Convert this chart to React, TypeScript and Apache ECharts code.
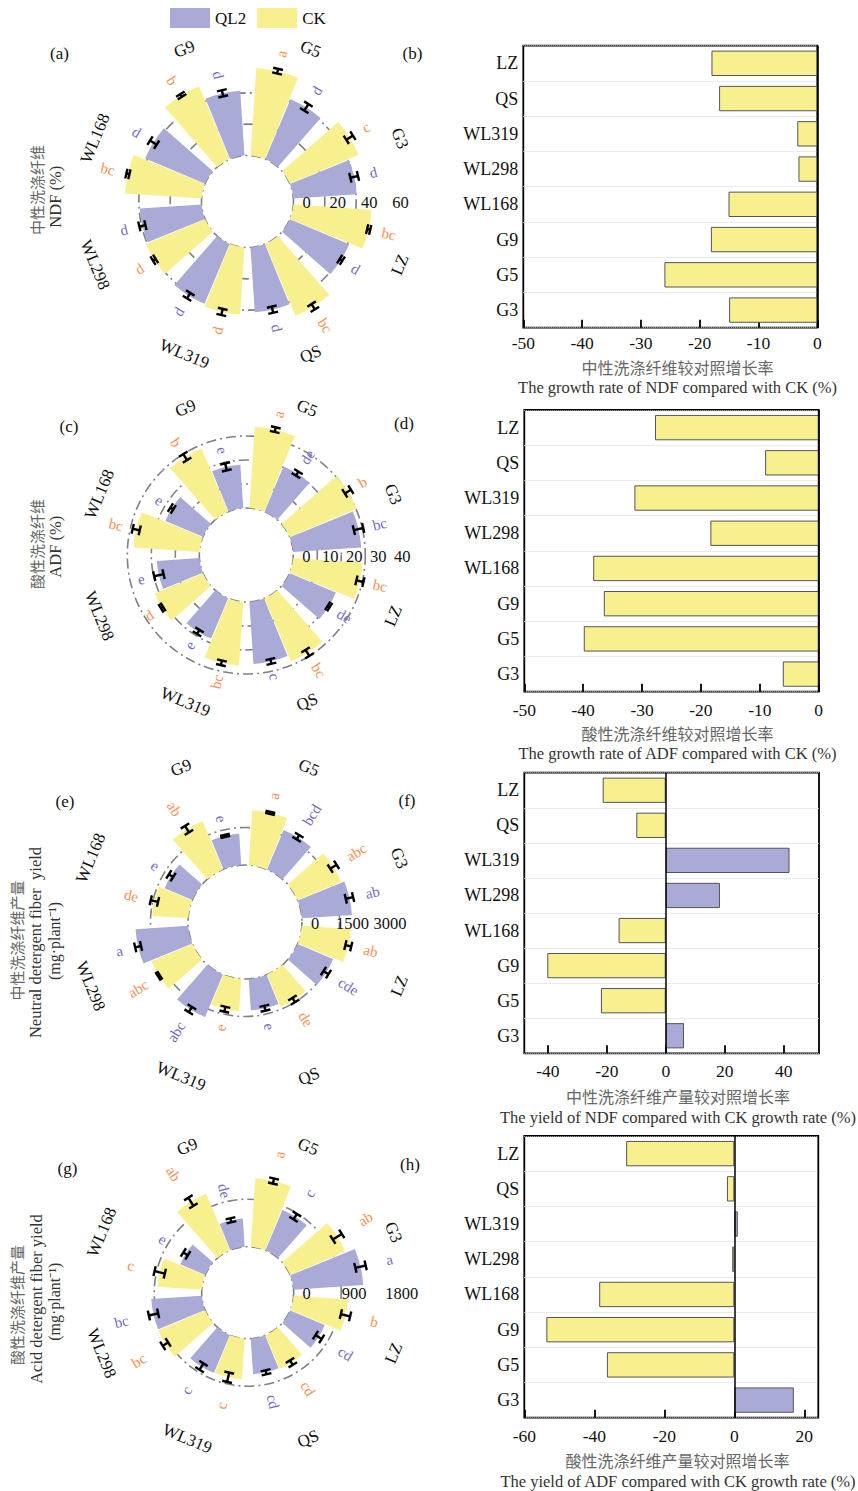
import React, { useEffect, useRef } from 'react';
import * as echarts from 'echarts';

// ---------------- data ----------------
const categories = ['G3', 'G5', 'G9', 'WL168', 'WL298', 'WL319', 'QS', 'LZ'];

// (a) NDF (%)
const ndfQL2 = [40.5, 41.5, 41.5, 41.5, 39.5, 41.5, 41.5, 41.0];
const ndfQL2Sd = [2.5, 2.5, 2.0, 2.5, 2.0, 2.0, 2.0, 1.0];
const ndfCK = [47.5, 56.0, 50.5, 49.0, 40.8, 43.0, 49.8, 50.0];
const ndfCKSd = [2.5, 1.5, 1.0, 1.0, 1.0, 2.0, 2.0, 1.0];
const ndfQL2Sig = ['d', 'd', 'd', 'd', 'd', 'd', 'd', 'd'];
const ndfCKSig = ['c', 'a', 'b', 'bc', 'd', 'd', 'bc', 'bc'];
const ndfTicks = [0, 20, 40, 60];

// (c) ADF (%)
const adfQL2 = [28.4, 20.4, 18.1, 17.0, 17.8, 18.2, 25.9, 20.9];
const adfQL2Sd = [2.0, 1.0, 1.5, 0.7, 2.0, 1.0, 1.0, 0.5];
const adfCK = [30.3, 34.0, 28.5, 27.5, 21.8, 26.5, 28.5, 29.0];
const adfCKSd = [1.5, 1.0, 1.5, 1.5, 0.5, 1.0, 1.5, 1.5];
const adfQL2Sig = ['bc', 'de', 'e', 'e', 'e', 'e', 'c', 'de'];
const adfCKSig = ['b', 'a', 'b', 'bc', 'd', 'bc', 'bc', 'bc'];
const adfTicks = [0, 10, 20, 30, 40];

// (e) NDF yield (mg/plant)
const ndfyQL2 = [2007, 1716, 1256, 1210, 2108, 1846, 1260, 1540];
const ndfyQL2Sd = [150, 100, 40, 100, 120, 120, 100, 120];
const ndfyCK = [1890, 2200, 2100, 1440, 1780, 1300, 1400, 1960];
const ndfyCKSd = [150, 40, 150, 150, 40, 100, 100, 120];
const ndfyQL2Sig = ['ab', 'bcd', 'e', 'e', 'a', 'abc', 'e', 'cde'];
const ndfyCKSig = ['abc', 'a', 'ab', 'de', 'abc', 'e', 'de', 'ab'];
const ndfyTicks = [0, 1500, 3000];

// (g) ADF yield (mg/plant)
const adfyQL2 = [1322, 827, 537, 516, 960, 780, 675, 712];
const adfyQL2Sd = [100, 60, 40, 50, 90, 70, 40, 70];
const adfyCK = [1130, 1300, 1160, 840, 966, 772, 690, 1030];
const adfyCKSd = [100, 50, 90, 100, 60, 90, 50, 90];
const adfyQL2Sig = ['a', 'c', 'de', 'e', 'bc', 'c', 'cd', 'cd'];
const adfyCKSig = ['ab', 'a', 'ab', 'c', 'bc', 'c', 'cd', 'b'];
const adfyTicks = [0, 900, 1800];

// growth rates (%) vs CK, categories order G3..LZ
const ndfRate = [-15.0, -26.0, -18.1, -15.1, -3.2, -3.4, -16.7, -18.0];
const adfRate = [-6.1, -39.9, -36.5, -38.3, -18.4, -31.3, -9.1, -27.8];
const ndfyRate = [6.2, -22.0, -40.2, -16.0, 18.4, 42.0, -10.0, -21.4];
const adfyRate = [17.0, -36.4, -53.7, -38.6, -0.6, 1.0, -2.1, -30.9];
const ticksB = [-50, -40, -30, -20, -10, 0];
const ticksD = [-50, -40, -30, -20, -10, 0];
const ticksF = [-40, -20, 0, 20, 40];
const ticksH = [-60, -40, -20, 0, 20];

// ---------------- styles ----------------
const PURPLE = '#A9ABD6';
const YELLOW = '#F8F08F';
const LET_PURPLE = '#7668C4';
const LET_ORANGE = '#F39253';
const SERIF = '"Liberation Serif", "Times New Roman", serif';
const CJK = '"Noto Sans CJK SC", "Liberation Serif", sans-serif';
const OFF = (9.5 * Math.PI) / 180;

function norm90(deg: number) {
  let d = deg;
  while (d > 90) d -= 180;
  while (d <= -90) d += 180;
  return d;
}

const polarPanels = [
  { center: [247.5, 201.5], radius: [46, 140], max: 60, interval: 20, ticks: ndfTicks, q: ndfQL2, qsd: ndfQL2Sd, ck: ndfCK, cksd: ndfCKSd, qsig: ndfQL2Sig, cksig: ndfCKSig, labelR: 165, gap: 12 },
  { center: [246.3, 555], radius: [47, 143], max: 40, interval: 10, ticks: adfTicks, q: adfQL2, qsd: adfQL2Sd, ck: adfCK, cksd: adfCKSd, qsig: adfQL2Sig, cksig: adfCKSig, labelR: 159, gap: 10 },
  { center: [245, 922], radius: [57, 132], max: 3000, interval: 1500, ticks: ndfyTicks, q: ndfyQL2, qsd: ndfyQL2Sd, ck: ndfyCK, cksd: ndfyCKSd, qsig: ndfyQL2Sig, cksig: ndfyCKSig, labelR: 167, gap: 13 },
  { center: [247.7, 1292.7], radius: [46, 141], max: 1800, interval: 900, ticks: adfyTicks, q: adfyQL2, qsd: adfyQL2Sd, ck: adfyCK, cksd: adfyCKSd, qsig: adfyQL2Sig, cksig: adfyCKSig, labelR: 158, gap: 21 },
];

const barPanels = [
  { grid: { left: 523.3, top: 45.7, width: 294, height: 282 }, min: -50, max: 0, ticks: ticksB, data: ndfRate, labelMargin: 6 },
  { grid: { left: 524.3, top: 410, width: 294.4, height: 281.7 }, min: -50, max: 0, ticks: ticksD, data: adfRate, labelMargin: 9 },
  { grid: { left: 524.3, top: 772.7, width: 294.7, height: 280.6 }, min: -48, max: 52, ticks: ticksF, data: ndfyRate, labelMargin: 9 },
  { grid: { left: 524.3, top: 1136, width: 294, height: 281.7 }, min: -60, max: 24, ticks: ticksH, data: adfyRate, labelMargin: 9 },
];

const errRender = (sig: string[], color: string, side: number, gap: number) => (params: any, api: any) => {
  const cs = params.coordSys;
  const cat = api.value(0);
  const mean = api.value(1);
  const sd = api.value(2);
  const p = api.coord([mean, cat]);
  const base = Math.atan2(cs.cy - p[1], p[0] - cs.cx);
  const a = base + side * OFF;
  const rr = (v: number) => {
    const q = api.coord([v, cat]);
    return Math.hypot(q[0] - cs.cx, q[1] - cs.cy);
  };
  const r1 = rr(mean - sd);
  const r2 = rr(mean + sd);
  const ux = Math.cos(a);
  const uy = -Math.sin(a);
  const tx = -uy;
  const ty = ux;
  const P = (r: number) => [cs.cx + r * ux, cs.cy + r * uy];
  const cap = 5;
  const [x1, y1] = P(r1);
  const [x2, y2] = P(r2);
  const ls = { stroke: '#000', lineWidth: 2.4 };
  const deg = (a * 180) / Math.PI;
  const rot = norm90(deg);
  const [lx, ly] = P(r2 + gap);
  return {
    type: 'group',
    children: [
      { type: 'line', shape: { x1, y1, x2, y2 }, style: ls },
      { type: 'line', shape: { x1: x1 - cap * tx, y1: y1 - cap * ty, x2: x1 + cap * tx, y2: y1 + cap * ty }, style: ls },
      { type: 'line', shape: { x1: x2 - cap * tx, y1: y2 - cap * ty, x2: x2 + cap * tx, y2: y2 + cap * ty }, style: ls },
      {
        type: 'text',
        x: lx,
        y: ly,
        rotation: (rot * Math.PI) / 180,
        style: {
          text: sig[params.dataIndex],
          fill: color,
          fontSize: 15,
          fontFamily: SERIF,
          align: Math.cos(a) < 0 ? 'right' : 'left',
          verticalAlign: 'middle',
        },
      },
    ],
  };
};

const catRender = (labelR: number) => (params: any, api: any) => {
  const cs = params.coordSys;
  const i = api.value(1);
  const p = api.coord([0, i]);
  const a = Math.atan2(cs.cy - p[1], p[0] - cs.cx);
  const rot = norm90((a * 180) / Math.PI - 90);
  return {
    type: 'text',
    x: cs.cx + labelR * Math.cos(a),
    y: cs.cy - labelR * Math.sin(a),
    rotation: (rot * Math.PI) / 180,
    style: { text: categories[i], fontSize: 17, fontFamily: SERIF, fill: '#111', align: 'center', verticalAlign: 'middle' },
  };
};

const tickRender = (ticks: number[]) => (params: any, api: any) => {
  const cs = params.coordSys;
  const v = api.value(0);
  const p = api.coord([v, 0]);
  const r = Math.hypot(p[0] - cs.cx, p[1] - cs.cy);
  return {
    type: 'text',
    x: cs.cx + r + 13,
    y: cs.cy + 1,
    style: { text: String(ticks[params.dataIndex]), fontSize: 16.5, fontFamily: SERIF, fill: '#111', align: 'center', verticalAlign: 'middle' },
  };
};

function buildOption() {
  const polar: any[] = [];
  const angleAxis: any[] = [];
  const radiusAxis: any[] = [];
  const grid: any[] = [];
  const xAxis: any[] = [];
  const yAxis: any[] = [];
  const series: any[] = [];

  polarPanels.forEach((pp, k) => {
    polar.push({ center: pp.center, radius: pp.radius });
    angleAxis.push({
      polarIndex: k,
      type: 'category',
      data: categories,
      startAngle: 0,
      clockwise: false,
      axisLine: { show: false },
      axisTick: { show: false },
      axisLabel: { show: false },
      splitLine: { show: false },
      splitArea: { show: false },
    });
    const lineColors = pp.ticks.map((_, i) => (i === pp.ticks.length - 1 ? 'rgba(0,0,0,0)' : '#808080'));
    radiusAxis.push({
      polarIndex: k,
      type: 'value',
      min: 0,
      max: pp.max,
      interval: pp.interval,
      axisLine: { show: false },
      axisTick: { show: false },
      axisLabel: { show: false },
      splitLine: { show: true, lineStyle: { color: lineColors, type: [10, 4, 2, 4], width: 1.6 } },
      splitArea: { show: false },
    });
    // ECharts lays the first polar bar series on the clockwise side of each band,
    // so CK is listed first to put QL2 on the counter-clockwise-start side as in the figure.
    series.push({
      type: 'bar',
      name: 'CK',
      coordinateSystem: 'polar',
      polarIndex: k,
      data: pp.ck,
      barCategoryGap: '16.7%',
      barGap: '3%',
      itemStyle: { color: YELLOW },
      z: 2,
    });
    series.push({
      type: 'bar',
      name: 'QL2',
      coordinateSystem: 'polar',
      polarIndex: k,
      data: pp.q,
      barCategoryGap: '16.7%',
      barGap: '3%',
      itemStyle: { color: PURPLE },
      z: 2,
    });
    series.push({
      type: 'custom',
      name: 'errQL2',
      coordinateSystem: 'polar',
      polarIndex: k,
      encode: { angle: 0, radius: 1 },
      data: pp.q.map((m, i) => [i, m, pp.qsd[i]]),
      renderItem: errRender(pp.qsig, LET_PURPLE, -1, pp.gap),
      z: 5,
      silent: true,
    });
    series.push({
      type: 'custom',
      name: 'errCK',
      coordinateSystem: 'polar',
      polarIndex: k,
      encode: { angle: 0, radius: 1 },
      data: pp.ck.map((m, i) => [i, m, pp.cksd[i]]),
      renderItem: errRender(pp.cksig, LET_ORANGE, 1, pp.gap),
      z: 5,
      silent: true,
    });
    series.push({
      type: 'custom',
      name: 'catLabels',
      coordinateSystem: 'polar',
      polarIndex: k,
      encode: { radius: 0, angle: 1 },
      data: categories.map((_, i) => [0, i]),
      renderItem: catRender(pp.labelR),
      z: 5,
      silent: true,
    });
    series.push({
      type: 'custom',
      name: 'tickLabels',
      coordinateSystem: 'polar',
      polarIndex: k,
      encode: { radius: 0, angle: 1 },
      data: pp.ticks.map((t) => [t, 0]),
      renderItem: tickRender(pp.ticks),
      z: 5,
      silent: true,
    });
  });

  barPanels.forEach((bp, k) => {
    grid.push({
      ...bp.grid,
      show: true,
      borderColor: '#000',
      borderWidth: 1.8,
      backgroundColor: 'rgba(0,0,0,0)',
      containLabel: false,
      outerBoundsMode: 'none',
    });
    xAxis.push({
      gridIndex: k,
      type: 'value',
      min: bp.min,
      max: bp.max,
      axisLine: { show: false },
      axisTick: { show: true, inside: true, length: 8, customValues: bp.ticks, lineStyle: { color: '#000', width: 1.8 } },
      axisLabel: { customValues: bp.ticks, fontSize: 17.5, fontFamily: SERIF, color: '#111', margin: bp.labelMargin },
      splitLine: { show: false },
    });
    yAxis.push({
      gridIndex: k,
      type: 'category',
      data: categories,
      axisLine: { show: false },
      axisTick: { show: false },
      axisLabel: { fontSize: 18, fontFamily: SERIF, color: '#111', margin: 5 },
      splitLine: { show: true, interval: 0, lineStyle: { color: '#d6d6d6', type: 'dotted', width: 1 } },
    });
    series.push({
      type: 'bar',
      name: 'rate' + k,
      xAxisIndex: k,
      yAxisIndex: k,
      data: bp.data.map((v) => ({ value: v, itemStyle: { color: v >= 0 ? PURPLE : YELLOW } })),
      barCategoryGap: '28%',
      itemStyle: { borderColor: '#555', borderWidth: 1 },
      markLine: {
        silent: true,
        symbol: ['none', 'none'],
        label: { show: false },
        lineStyle: { color: '#000', width: 1.5, type: 'solid' },
        data: [{ xAxis: 0 }],
      },
      z: 2,
    });
  });

  const txt = (text: string, x: number, y: number, opts: any = {}) => ({
    type: 'text',
    x,
    y,
    rotation: opts.rot || 0,
    silent: true,
    style: {
      text,
      fill: opts.fill || '#111',
      fontSize: opts.size || 17,
      fontFamily: opts.font || SERIF,
      align: 'center',
      verticalAlign: 'middle',
    },
  });
  const V = Math.PI / 2;
  const graphic = [
    txt('(a)', 59.5, 53),
    txt('(b)', 412.5, 53),
    txt('(c)', 69, 426.5),
    txt('(d)', 404, 423.5),
    txt('(e)', 65, 801.5),
    txt('(f)', 407, 800),
    txt('(g)', 67.5, 1168),
    txt('(h)', 410, 1164),
    // left axis titles
    txt('中性洗涤纤维', 36, 190, { rot: V, fill: '#666', size: 15, font: CJK }),
    txt('NDF (%)', 55.5, 196.7, { rot: V, fill: '#333', size: 16.5 }),
    txt('酸性洗涤纤维', 36, 544, { rot: V, fill: '#666', size: 15, font: CJK }),
    txt('ADF (%)', 55, 546.7, { rot: V, fill: '#333', size: 16.5 }),
    txt('中性洗涤纤维产量', 16, 940.5, { rot: V, fill: '#666', size: 15, font: CJK }),
    txt('Neutral detergent fiber  yield', 35.5, 942.5, { rot: V, fill: '#333', size: 16.5 }),
    txt('(mg·plant⁻¹)', 54, 941, { rot: V, fill: '#333', size: 16 }),
    txt('酸性洗涤纤维产量', 16, 1305, { rot: V, fill: '#666', size: 15, font: CJK }),
    txt('Acid detergent fiber yield', 36, 1299, { rot: V, fill: '#333', size: 16.5 }),
    txt('(mg·plant⁻¹)', 54, 1301.7, { rot: V, fill: '#333', size: 16 }),
    // right axis titles
    txt('中性洗涤纤维较对照增长率', 677.5, 366.5, { fill: '#666', size: 16, font: CJK }),
    txt('The growth rate of NDF compared with CK (%)', 677.5, 387.5, { fill: '#333', size: 16.5 }),
    txt('酸性洗涤纤维较对照增长率', 677.5, 733, { fill: '#666', size: 16, font: CJK }),
    txt('The growth rate of ADF compared with CK (%)', 677.5, 753.5, { fill: '#333', size: 16.5 }),
    txt('中性洗涤纤维产量较对照增长率', 678, 1096, { fill: '#666', size: 16, font: CJK }),
    txt('The yield of NDF compared with CK growth rate (%)', 678, 1117.5, { fill: '#333', size: 16.5 }),
    txt('酸性洗涤纤维产量较对照增长率', 677.5, 1460, { fill: '#666', size: 16, font: CJK }),
    txt('The yield of ADF compared with CK growth rate (%)', 678, 1481, { fill: '#333', size: 16.5 }),
  ];

  return {
    animation: false,
    backgroundColor: '#fff',
    legend: {
      data: ['QL2', 'CK'],
      left: 170,
      top: 8,
      padding: 0,
      itemWidth: 40,
      itemHeight: 20,
      itemGap: 11,
      icon: 'rect',
      selectedMode: false,
      textStyle: { fontSize: 17, fontFamily: SERIF, color: '#111' },
    },
    polar,
    angleAxis,
    radiusAxis,
    grid,
    xAxis,
    yAxis,
    series,
    graphic,
  };
}

export default function App() {
  const ref = useRef<HTMLDivElement>(null);
  useEffect(() => {
    if (!ref.current) return;
    const chart = echarts.init(ref.current, null, { renderer: 'svg' });
    chart.setOption(buildOption() as any);
    return () => chart.dispose();
  }, []);
  return <div ref={ref} style={{ position: 'absolute', left: 0, top: 0, width: 858, height: 1491, background: '#fff' }} />;
}
